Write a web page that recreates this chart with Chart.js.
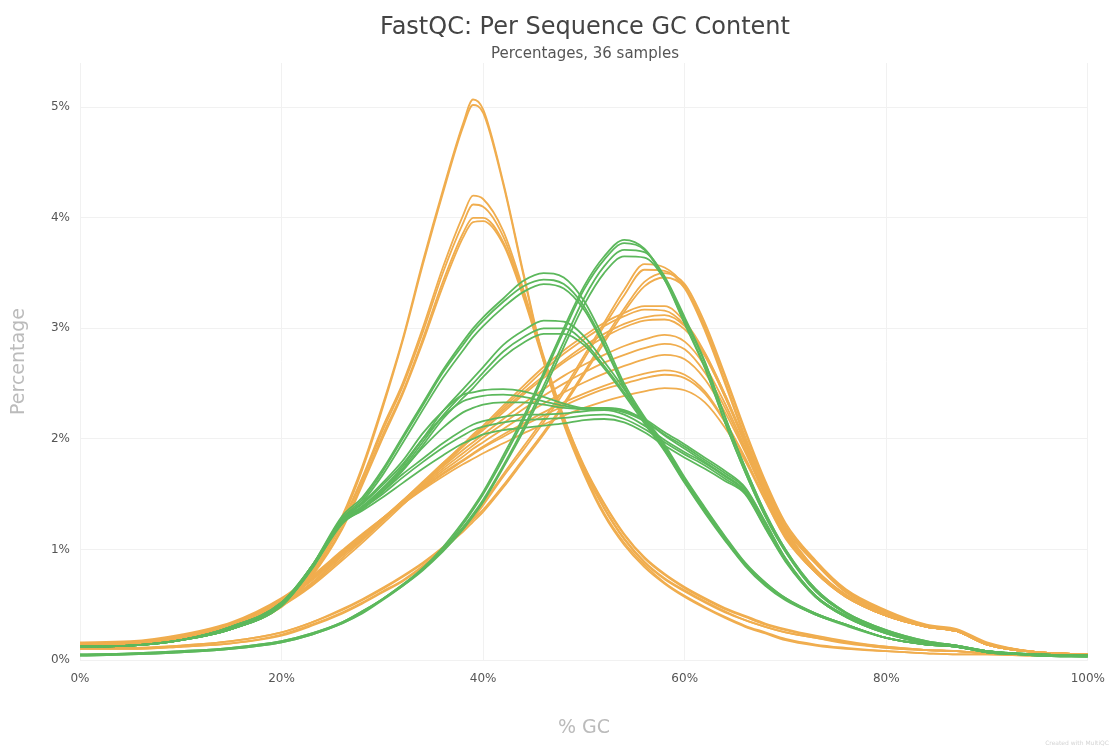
<!DOCTYPE html>
<html>
<head>
<meta charset="utf-8">
<script src="https://cdn.jsdelivr.net/npm/chart.js@4.4.1/dist/chart.umd.min.js"></script>
<style>
  body { margin: 0; background: #fff; }
  #wrap { position: relative; width: 1117px; height: 747px; }
  .ttl { position: absolute; left: 0; width: 1170px; text-align: center; font-family: "DejaVu Sans", sans-serif; }
  #credit { position: absolute; right: 8px; bottom: 1px; font-family: "DejaVu Sans", sans-serif; font-size: 6px; color: #d4d4d4; }
</style>
</head>
<body>
<div id="wrap">
  <canvas id="myChart" width="1117" height="747"></canvas>
  <div class="ttl" style="top:12px;font-size:24px;color:#444;">FastQC: Per Sequence GC Content</div>
  <div class="ttl" style="top:44px;font-size:15px;color:#555;">Percentages, 36 samples</div>
  <div id="credit">Created with MultiQC</div>
</div>
<script>
// % GC positions where values were read
var gcPercent = [0,5,10,15,20,23,26,28,30,32,34,36,38,39,40,42,44,46,48,50,52,54,56,58,60,62,64,66,68,70,73,76,80,84,87,90,95,100];

// green samples (pass)
var g1a = [0.04,0.05,0.07,0.1,0.16,0.23,0.33,0.43,0.55,0.68,0.83,1.02,1.25,1.38,1.52,1.85,2.2,2.6,3.0,3.38,3.65,3.8,3.72,3.45,3.05,2.65,2.15,1.7,1.3,0.98,0.62,0.42,0.26,0.16,0.12,0.08,0.04,0.03];
var g1b = [0.04,0.05,0.07,0.1,0.16,0.23,0.33,0.42,0.54,0.67,0.82,1.0,1.23,1.36,1.5,1.82,2.17,2.57,2.97,3.35,3.62,3.77,3.71,3.44,3.04,2.64,2.15,1.7,1.3,0.98,0.62,0.42,0.26,0.16,0.12,0.08,0.04,0.03];
var g1c = [0.05,0.06,0.08,0.11,0.17,0.24,0.34,0.44,0.55,0.68,0.82,1.0,1.2,1.32,1.45,1.76,2.1,2.48,2.88,3.27,3.56,3.71,3.69,3.47,3.1,2.7,2.2,1.74,1.33,1.0,0.64,0.43,0.27,0.17,0.13,0.08,0.04,0.03];
var g1d = [0.05,0.06,0.08,0.11,0.17,0.24,0.34,0.44,0.55,0.67,0.81,0.98,1.18,1.3,1.43,1.74,2.07,2.44,2.83,3.21,3.5,3.65,3.64,3.44,3.08,2.69,2.2,1.74,1.33,1.0,0.64,0.43,0.27,0.17,0.13,0.08,0.04,0.03];
var g2a = [0.12,0.13,0.18,0.28,0.5,0.85,1.3,1.47,1.72,2.02,2.32,2.62,2.88,3.0,3.1,3.27,3.43,3.5,3.46,3.25,2.9,2.5,2.2,1.95,1.65,1.38,1.12,0.88,0.7,0.56,0.42,0.32,0.2,0.14,0.12,0.07,0.05,0.04];
var g2b = [0.12,0.13,0.18,0.28,0.49,0.83,1.28,1.45,1.7,2.0,2.3,2.6,2.85,2.97,3.07,3.24,3.38,3.44,3.4,3.2,2.86,2.47,2.18,1.93,1.64,1.37,1.11,0.87,0.7,0.56,0.42,0.32,0.2,0.14,0.12,0.07,0.05,0.04];
var g2c = [0.12,0.13,0.18,0.28,0.49,0.82,1.26,1.43,1.67,1.96,2.26,2.55,2.8,2.92,3.02,3.19,3.33,3.4,3.36,3.17,2.84,2.46,2.17,1.92,1.63,1.36,1.1,0.87,0.69,0.55,0.42,0.32,0.2,0.14,0.12,0.07,0.05,0.04];
var g3a = [0.12,0.13,0.18,0.28,0.5,0.85,1.25,1.38,1.55,1.75,2.0,2.25,2.45,2.55,2.65,2.85,2.98,3.07,3.06,2.93,2.7,2.45,2.18,1.92,1.62,1.35,1.1,0.86,0.68,0.55,0.41,0.32,0.2,0.14,0.12,0.07,0.05,0.04];
var g3b = [0.12,0.13,0.18,0.28,0.5,0.84,1.24,1.37,1.54,1.73,1.97,2.21,2.41,2.5,2.6,2.79,2.92,3.0,3.0,2.88,2.66,2.42,2.16,1.9,1.61,1.34,1.09,0.86,0.68,0.55,0.41,0.32,0.2,0.14,0.12,0.07,0.05,0.04];
var g3c = [0.12,0.13,0.18,0.28,0.49,0.83,1.23,1.36,1.52,1.71,1.94,2.18,2.37,2.46,2.56,2.74,2.87,2.95,2.95,2.85,2.64,2.4,2.14,1.89,1.6,1.33,1.08,0.85,0.67,0.54,0.41,0.31,0.2,0.14,0.12,0.07,0.05,0.04];
var g4a = [0.12,0.13,0.18,0.3,0.52,0.85,1.28,1.42,1.6,1.8,2.05,2.25,2.4,2.42,2.44,2.45,2.43,2.38,2.32,2.28,2.28,2.25,2.18,2.06,1.95,1.83,1.71,1.56,1.25,0.92,0.58,0.4,0.25,0.16,0.13,0.08,0.05,0.04];
var g4b = [0.12,0.13,0.18,0.3,0.52,0.84,1.27,1.41,1.58,1.77,2.0,2.2,2.34,2.37,2.39,2.4,2.38,2.34,2.3,2.27,2.27,2.24,2.16,2.04,1.93,1.81,1.69,1.55,1.24,0.92,0.58,0.4,0.25,0.16,0.13,0.08,0.05,0.04];
var g4c = [0.12,0.13,0.18,0.3,0.51,0.84,1.26,1.39,1.55,1.72,1.92,2.1,2.24,2.28,2.31,2.33,2.33,2.31,2.28,2.27,2.28,2.26,2.17,2.03,1.91,1.79,1.67,1.53,1.23,0.91,0.58,0.4,0.25,0.16,0.13,0.08,0.05,0.04];
var g5a = [0.12,0.13,0.18,0.3,0.52,0.85,1.26,1.38,1.52,1.68,1.82,1.96,2.08,2.13,2.16,2.2,2.22,2.22,2.23,2.25,2.26,2.22,2.12,1.99,1.88,1.78,1.66,1.52,1.2,0.9,0.57,0.39,0.24,0.15,0.12,0.08,0.05,0.04];
var g5b = [0.12,0.13,0.18,0.3,0.51,0.84,1.25,1.37,1.5,1.65,1.79,1.92,2.03,2.08,2.11,2.15,2.17,2.18,2.19,2.21,2.22,2.18,2.09,1.97,1.86,1.76,1.64,1.51,1.2,0.9,0.57,0.39,0.24,0.15,0.12,0.08,0.05,0.04];
var g5c = [0.12,0.13,0.18,0.29,0.5,0.83,1.24,1.35,1.47,1.6,1.73,1.85,1.96,2.0,2.04,2.08,2.1,2.12,2.14,2.17,2.18,2.15,2.06,1.94,1.83,1.73,1.62,1.5,1.19,0.89,0.57,0.39,0.24,0.15,0.12,0.08,0.05,0.04];

// orange samples (warn)
var o1a = [0.13,0.15,0.2,0.3,0.5,0.78,1.3,1.75,2.3,2.9,3.6,4.25,4.85,5.07,4.98,4.32,3.5,2.72,2.15,1.7,1.33,1.06,0.86,0.7,0.58,0.48,0.39,0.31,0.25,0.19,0.14,0.11,0.08,0.06,0.05,0.05,0.04,0.04];
var o1b = [0.12,0.14,0.19,0.29,0.48,0.76,1.27,1.72,2.27,2.88,3.57,4.22,4.82,5.02,4.95,4.3,3.48,2.7,2.13,1.68,1.31,1.04,0.84,0.69,0.57,0.47,0.38,0.3,0.24,0.18,0.13,0.1,0.08,0.06,0.05,0.05,0.04,0.04];
var o2a = [0.14,0.16,0.22,0.32,0.52,0.8,1.25,1.65,2.1,2.5,3.0,3.55,4.02,4.2,4.17,3.88,3.35,2.75,2.2,1.76,1.42,1.14,0.93,0.78,0.66,0.56,0.47,0.4,0.33,0.28,0.22,0.17,0.12,0.09,0.08,0.06,0.05,0.04];
var o2b = [0.14,0.16,0.21,0.31,0.51,0.79,1.23,1.63,2.07,2.47,2.96,3.5,3.95,4.12,4.1,3.83,3.32,2.73,2.19,1.75,1.41,1.13,0.92,0.77,0.65,0.55,0.46,0.39,0.32,0.27,0.21,0.16,0.12,0.09,0.08,0.06,0.05,0.04];
var o2c = [0.13,0.15,0.2,0.3,0.5,0.77,1.2,1.6,2.03,2.42,2.9,3.42,3.86,4.0,4.0,3.78,3.3,2.72,2.18,1.73,1.38,1.1,0.89,0.74,0.63,0.53,0.44,0.36,0.3,0.25,0.2,0.16,0.11,0.09,0.08,0.06,0.05,0.04];
var o2d = [0.13,0.15,0.2,0.3,0.49,0.76,1.18,1.58,2.0,2.4,2.87,3.38,3.82,3.96,3.97,3.76,3.28,2.7,2.16,1.72,1.37,1.09,0.88,0.73,0.62,0.52,0.43,0.36,0.3,0.25,0.2,0.15,0.11,0.09,0.08,0.06,0.05,0.04];
var o3a = [0.1,0.1,0.12,0.15,0.23,0.32,0.43,0.52,0.62,0.72,0.85,1.0,1.2,1.3,1.42,1.68,1.93,2.18,2.45,2.75,3.05,3.35,3.58,3.55,3.38,3.0,2.52,2.02,1.58,1.2,0.88,0.62,0.43,0.31,0.27,0.15,0.07,0.05];
var o3b = [0.1,0.1,0.12,0.15,0.22,0.31,0.42,0.51,0.61,0.71,0.84,0.99,1.18,1.28,1.4,1.66,1.9,2.15,2.42,2.72,3.02,3.3,3.53,3.52,3.36,2.98,2.5,2.0,1.56,1.19,0.87,0.61,0.42,0.3,0.26,0.14,0.07,0.05];
var o3c = [0.11,0.11,0.13,0.17,0.25,0.34,0.46,0.55,0.65,0.76,0.88,1.02,1.18,1.27,1.36,1.58,1.82,2.06,2.32,2.6,2.9,3.18,3.42,3.5,3.4,3.05,2.58,2.08,1.62,1.24,0.9,0.64,0.45,0.32,0.28,0.16,0.07,0.05];
var o3d = [0.11,0.11,0.13,0.17,0.25,0.34,0.45,0.54,0.64,0.75,0.87,1.01,1.16,1.25,1.34,1.56,1.8,2.04,2.3,2.58,2.87,3.15,3.38,3.46,3.37,3.02,2.56,2.06,1.6,1.22,0.89,0.63,0.44,0.31,0.27,0.15,0.07,0.05];
var o4a = [0.13,0.14,0.2,0.3,0.5,0.68,0.92,1.08,1.25,1.42,1.6,1.78,1.95,2.04,2.12,2.3,2.48,2.65,2.8,2.93,3.05,3.14,3.2,3.2,3.06,2.78,2.4,1.96,1.52,1.16,0.8,0.58,0.4,0.3,0.26,0.14,0.07,0.05];
var o4b = [0.13,0.14,0.19,0.29,0.49,0.67,0.9,1.06,1.23,1.4,1.58,1.76,1.93,2.02,2.1,2.28,2.45,2.62,2.77,2.9,3.02,3.11,3.17,3.16,3.03,2.76,2.38,1.95,1.51,1.15,0.8,0.58,0.4,0.3,0.26,0.14,0.07,0.05];
var o4c = [0.14,0.15,0.21,0.31,0.52,0.7,0.95,1.1,1.27,1.44,1.61,1.78,1.94,2.02,2.1,2.26,2.42,2.57,2.71,2.84,2.95,3.04,3.1,3.12,3.02,2.77,2.4,1.98,1.55,1.18,0.82,0.59,0.41,0.31,0.27,0.15,0.07,0.05];
var o4d = [0.14,0.15,0.21,0.31,0.51,0.69,0.94,1.09,1.26,1.43,1.6,1.77,1.93,2.01,2.08,2.24,2.4,2.55,2.69,2.81,2.92,3.01,3.07,3.08,2.99,2.75,2.38,1.97,1.54,1.17,0.82,0.59,0.41,0.31,0.27,0.15,0.07,0.05];
var o5a = [0.14,0.15,0.21,0.32,0.53,0.72,0.96,1.12,1.28,1.44,1.6,1.75,1.9,1.97,2.04,2.18,2.32,2.45,2.57,2.67,2.76,2.84,2.9,2.94,2.88,2.66,2.32,1.92,1.5,1.14,0.8,0.58,0.4,0.3,0.26,0.14,0.07,0.05];
var o5b = [0.14,0.15,0.21,0.32,0.53,0.72,0.96,1.11,1.27,1.43,1.58,1.73,1.87,1.94,2.01,2.14,2.27,2.39,2.5,2.6,2.69,2.76,2.82,2.86,2.81,2.6,2.28,1.9,1.49,1.13,0.8,0.58,0.4,0.3,0.26,0.14,0.07,0.05];
var o5c = [0.15,0.16,0.22,0.33,0.54,0.73,0.97,1.12,1.28,1.43,1.57,1.71,1.84,1.91,1.97,2.09,2.21,2.32,2.42,2.51,2.59,2.66,2.72,2.76,2.72,2.54,2.24,1.88,1.48,1.13,0.8,0.58,0.4,0.3,0.26,0.14,0.07,0.05];
var o6a = [0.15,0.16,0.22,0.33,0.55,0.75,0.98,1.13,1.28,1.42,1.56,1.69,1.81,1.87,1.93,2.04,2.14,2.24,2.33,2.41,2.48,2.54,2.59,2.62,2.58,2.43,2.16,1.83,1.45,1.11,0.79,0.57,0.4,0.3,0.26,0.14,0.07,0.05];
var o6b = [0.15,0.16,0.22,0.33,0.55,0.74,0.97,1.12,1.27,1.41,1.55,1.68,1.8,1.86,1.92,2.02,2.12,2.21,2.3,2.38,2.45,2.5,2.55,2.58,2.55,2.41,2.15,1.82,1.45,1.11,0.79,0.57,0.4,0.3,0.26,0.14,0.07,0.05];
var o6c = [0.16,0.17,0.23,0.34,0.56,0.76,0.99,1.14,1.28,1.41,1.54,1.66,1.77,1.82,1.87,1.96,2.05,2.13,2.21,2.28,2.34,2.39,2.43,2.46,2.44,2.33,2.1,1.8,1.44,1.1,0.79,0.57,0.4,0.3,0.26,0.14,0.07,0.05];

var greenSeries = [g1a,g1b,g1c,g1d,g2a,g2b,g2c,g3a,g3b,g3c,g4a,g4b,g4c,g5a,g5b,g5c];
var orangeSeries = [o1a,o1b,o2a,o2b,o2c,o2d,o3a,o3b,o3c,o3d,o4a,o4b,o4c,o4d,o5a,o5b,o5c,o6a,o6b,o6c];

var green = "#5cb85c";
var orange = "#f0ad4e";

var datasets = [];
var addSeries = (list, colour) => {
  list.forEach(vals => {
    datasets.push({
      data: gcPercent.map((x, i) => ({ x: x, y: vals[i] })),
      borderColor: colour,
      backgroundColor: colour,
      borderWidth: 1.8,
      pointRadius: 0,
      fill: false,
      cubicInterpolationMode: "monotone"
    });
  });
};
addSeries(greenSeries, green);
addSeries(orangeSeries, orange);

var tickFont = { family: "DejaVu Sans", size: 12 };
var titleFont = { family: "DejaVu Sans", size: 19 };

var ctx = document.getElementById("myChart").getContext("2d");
var chart = new Chart(ctx, {
  type: "line",
  data: { datasets: datasets },
  options: {
    responsive: false,
    animation: false,
    layout: { padding: { left: 8, right: 27, top: 63, bottom: 6 } },
    plugins: {
      legend: { display: false },
      tooltip: { enabled: false }
    },
    scales: {
      x: {
        type: "linear",
        min: 0,
        max: 100,
        ticks: { stepSize: 20, callback: v => v + "%", color: "#555", font: tickFont, padding: 12, maxRotation: 0 },
        grid: { color: "#f1f1f1", drawTicks: false },
        border: { display: false },
        title: { display: true, text: "% GC", color: "#bbb", font: titleFont, padding: { top: 0, bottom: 2 } },
        afterFit: s => { s.height = 81; }
      },
      y: {
        min: 0,
        max: 5.4,
        afterBuildTicks: s => { s.ticks = [0, 1, 2, 3, 4, 5].map(v => ({ value: v })); },
        ticks: { callback: v => v + "%", color: "#555", font: tickFont, padding: 10 },
        grid: { color: "#f1f1f1", drawTicks: false },
        border: { display: false },
        title: { display: true, text: "Percentage", color: "#bbb", font: titleFont, padding: 0 },
        afterFit: s => { s.width = 72; }
      }
    }
  }
});
</script>
</body>
</html>
